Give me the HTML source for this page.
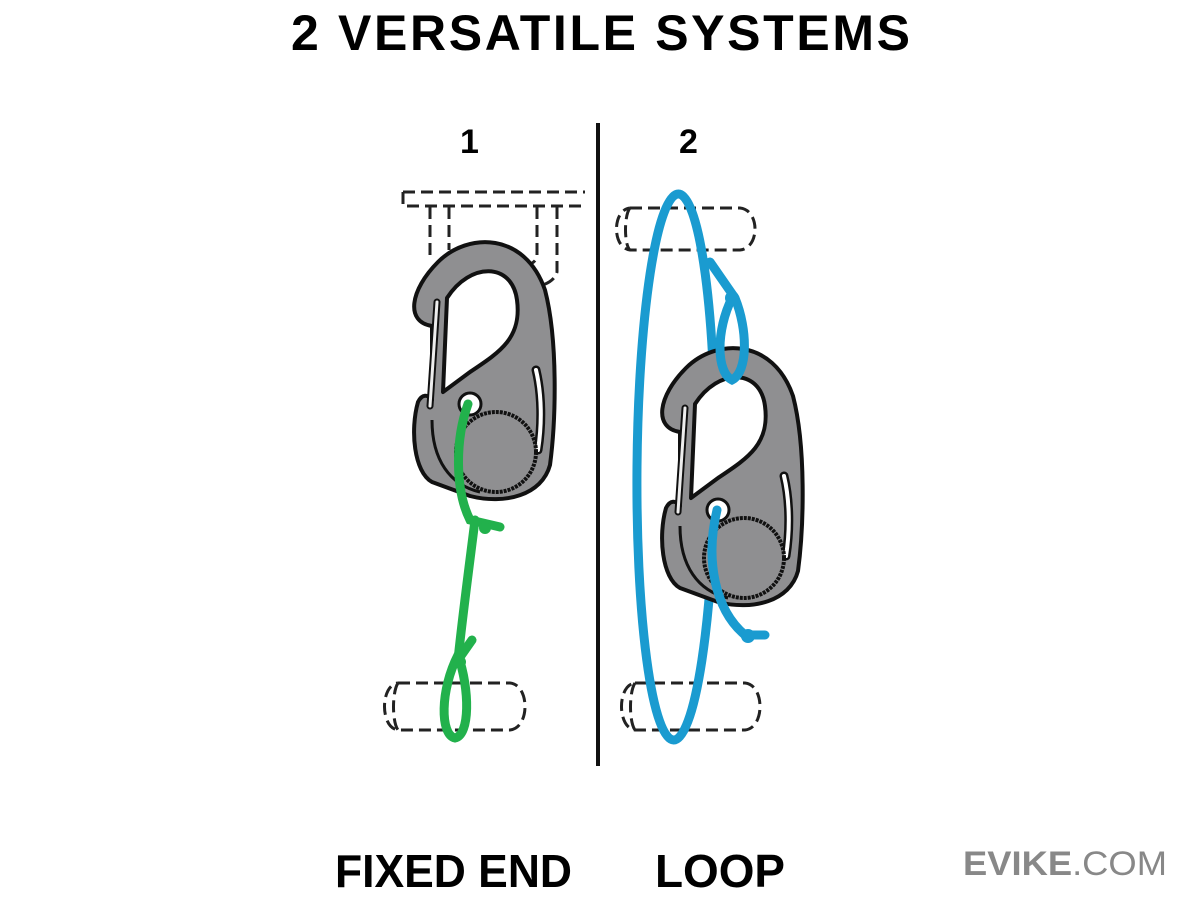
<!DOCTYPE html>
<html><head><style>html,body{margin:0;padding:0;background:#fff;}svg{display:block}</style></head>
<body>
<svg width="1200" height="900" viewBox="0 0 1200 900" xmlns="http://www.w3.org/2000/svg">
<defs>
<g id="cb">
  <path d="M432,326 C405,322 410,290 438,262 C468,232 525,232 545,290 C558,340 556,420 550,465 C542,495 505,505 470,496 L432,482 C414,472 410,430 418,402 C422,394 428,394 432,400 Z" fill="#8f8f91" stroke="#111" stroke-width="4" stroke-linejoin="round"/>
  <path d="M447,298 C470,262 512,262 517,300 C522,338 500,352 470,372 L443,392 Z" fill="#fff" stroke="#111" stroke-width="4" stroke-linejoin="round"/>
  <path d="M437,302 L430,406" stroke="#111" stroke-width="7" stroke-linecap="round"/>
  <path d="M437,302 L430,406" stroke="#eee" stroke-width="3" stroke-linecap="round"/>
  <path d="M536,370 C542,395 542,425 538,450" stroke="#111" stroke-width="9" stroke-linecap="round" fill="none"/>
  <path d="M536,370 C542,395 542,425 538,450" stroke="#fff" stroke-width="4" stroke-linecap="round" fill="none"/>
  <path d="M432,420 C432,460 450,485 480,492" stroke="#111" stroke-width="3" fill="none"/>
  <circle cx="496" cy="452" r="40" fill="#8f8f91" stroke="#111" stroke-width="4" stroke-dasharray="3 1"/>
  <circle cx="470" cy="404" r="11" fill="#fff" stroke="#111" stroke-width="3"/>
</g>
</defs>
<text x="291" y="50" font-family="Liberation Sans, sans-serif" font-weight="bold" font-size="50" letter-spacing="3" textLength="622" lengthAdjust="spacing">2 VERSATILE SYSTEMS</text>
<text x="460" y="153" font-family="Liberation Sans, sans-serif" font-weight="bold" font-size="34">1</text>
<text x="679" y="153" font-family="Liberation Sans, sans-serif" font-weight="bold" font-size="34">2</text>
<line x1="598" y1="123" x2="598" y2="766" stroke="#111" stroke-width="4"/>
<g fill="none" stroke="#222" stroke-width="3" stroke-dasharray="12 6">
  <path d="M403,192 L585,192 M403,192 L403,206 L585,206"/>
  <path d="M430,207 L430,260 M449,207 L449,250 M537,207 L537,255 C537,262 530,268 500,270 M557,207 L557,272 C552,290 520,292 450,290"/>
  <path d="M630,208 L740,208 C760,210 760,248 740,250 L630,250 C612,248 612,210 630,208 M630,208 C624,215 624,245 630,250"/>
  <path d="M398,683 L510,683 C530,685 530,728 510,730 L398,730 C380,728 380,685 398,683 M398,683 C392,692 392,722 398,730"/>
  <path d="M635,683 L745,683 C765,685 765,728 745,730 L635,730 C617,728 617,685 635,683 M635,683 C629,692 629,722 635,730"/>
</g>
<use href="#cb"/>
<ellipse cx="676" cy="467" rx="39" ry="273" transform="rotate(0.5 676 467)" fill="none" stroke="#1a9bd0" stroke-width="9"/>
<use href="#cb" transform="translate(248,106)"/>
<g fill="none" stroke="#22b14c" stroke-width="9" stroke-linecap="round">
  <path d="M468,404 C455,440 455,490 470,520 L500,527"/>
  <path d="M475,520 C470,560 462,620 458,660"/>
  <path d="M458,655 C440,690 440,735 455,738 C470,735 470,690 458,655"/>
  <path d="M458,660 L472,640"/>
</g>
<circle cx="485" cy="528" r="6" fill="#22b14c"/>
<circle cx="460" cy="662" r="6" fill="#22b14c"/>
<g fill="none" stroke="#1a9bd0" stroke-width="9" stroke-linecap="round">
  <path d="M710,262 L735,298 C748,330 748,372 732,380 C716,372 716,330 732,298"/>
  <path d="M717,510 C705,560 715,610 745,635 L765,635"/>
</g>
<circle cx="732" cy="298" r="7" fill="#1a9bd0"/>
<circle cx="748" cy="636" r="7" fill="#1a9bd0"/>
<text x="335" y="887" font-family="Liberation Sans, sans-serif" font-weight="bold" font-size="46" textLength="237" lengthAdjust="spacingAndGlyphs">FIXED END</text>
<text x="655" y="887" font-family="Liberation Sans, sans-serif" font-weight="bold" font-size="46" textLength="130" lengthAdjust="spacingAndGlyphs">LOOP</text>
<text x="963" y="875" font-family="Liberation Sans, sans-serif" font-size="34" fill="#888" textLength="204" lengthAdjust="spacingAndGlyphs"><tspan font-weight="bold">EVIKE</tspan>.COM</text>
</svg>
</body></html>
